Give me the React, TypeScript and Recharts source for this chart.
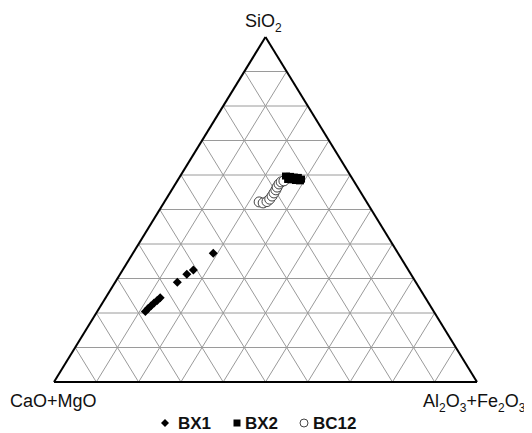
import React from 'react';
import { ScatterChart, Scatter, XAxis, YAxis, ReferenceLine, Customized } from 'recharts';

// Ternary compositions in percent: [SiO2, Al2O3+Fe2O3, CaO+MgO]
const BX1: number[][] = [
  [37.3, 19.0, 43.7],
  [32.5, 16.7, 50.8],
  [31.2, 15.8, 53.0],
  [28.9, 14.7, 56.4],
  [24.4, 12.9, 62.7],
  [23.6, 12.6, 63.8],
  [22.9, 12.2, 64.9],
  [22.0, 11.9, 66.1],
  [21.3, 11.6, 67.1],
  [20.4, 11.4, 68.2],
];

const BX2: number[][] = [
  [59.7, 25.0, 15.3],
  [59.6, 26.0, 14.4],
  [59.4, 27.0, 13.6],
  [59.3, 28.0, 12.7],
  [58.8, 29.0, 12.2],
  [58.3, 29.0, 12.7],
  [58.4, 28.0, 13.6],
  [58.6, 27.0, 14.4],
  [58.7, 26.0, 15.3],
];

const BC12: number[][] = [
  [52.2, 22.4, 25.4],
  [51.9, 23.5, 24.6],
  [52.3, 24.2, 23.5],
  [53.0, 24.5, 22.5],
  [53.9, 24.6, 21.5],
  [54.8, 24.6, 20.6],
  [55.7, 24.6, 19.7],
  [56.5, 24.5, 19.0],
  [57.4, 24.5, 18.1],
  [58.0, 24.7, 17.3],
  [58.3, 25.2, 16.5],
];

const gridSteps = [1, 2, 3, 4, 5, 6, 7, 8, 9];
const seriesNames = ['BX1', 'BX2', 'BC12'];
const apexLabels = ['SiO2', 'CaO+MgO', 'Al2O3+Fe2O3'];

const toXY = (row: number[]) => {
  const t = row[0] + row[1] + row[2];
  const s = row[0] / t;
  const a = row[1] / t;
  return { x: a + s / 2, y: s };
};

const bx1Data = BX1.map(toXY);
const bx2Data = BX2.map(toXY);
const bc12Data = BC12.map(toXY);

type Seg = [{ x: number; y: number }, { x: number; y: number }];
const gridSegments: Seg[] = [];
gridSteps.forEach((k) => {
  const t = k / 10;
  gridSegments.push([{ x: t / 2, y: t }, { x: 1 - t / 2, y: t }]);
  gridSegments.push([{ x: t, y: 0 }, { x: t + (1 - t) / 2, y: 1 - t }]);
  gridSegments.push([{ x: 1 - t, y: 0 }, { x: (1 - t) / 2, y: 1 - t }]);
});
const outline: Seg[] = [
  [{ x: 0, y: 0 }, { x: 1, y: 0 }],
  [{ x: 0, y: 0 }, { x: 0.5, y: 1 }],
  [{ x: 1, y: 0 }, { x: 0.5, y: 1 }],
];

const Diamond = (props: any) => {
  const { cx, cy } = props;
  const r = 4.5;
  return <polygon points={`${cx},${cy - r} ${cx + r},${cy} ${cx},${cy + r} ${cx - r},${cy}`} fill="#000" />;
};
const Square = (props: any) => {
  const { cx, cy } = props;
  return <rect x={cx - 4} y={cy - 3.5} width={8} height={7} fill="#000" />;
};
const Ring = (props: any) => {
  const { cx, cy } = props;
  return <circle cx={cx} cy={cy} r={5} fill="#fff" stroke="#444" strokeWidth={1} />;
};

const FONT = 'Liberation Sans, Arial, Helvetica, sans-serif';

const Sub = ({ children }: { children: string }) => (
  <tspan fontSize={12} dy={5}>{children}</tspan>
);

const Labels = () => (
  <g fontFamily={FONT} fill="#111">
    <text x={237} y={19} fontSize={18}>
      SiO<tspan fontSize={12} dy={5}>2</tspan>
    </text>
    <text x={2} y={399} fontSize={18}>{apexLabels[1]}</text>
    <text x={415} y={399} fontSize={18}>
      Al<Sub>2</Sub><tspan dy={-5}>O</tspan><Sub>3</Sub><tspan dy={-5}>+Fe</tspan><Sub>2</Sub><tspan dy={-5}>O</tspan><Sub>3</Sub>
    </text>
    <g fontSize={17} fontWeight="bold">
      <polygon points="157,411 161,415 157,419 153,415" fill="#000" />
      <text x={170} y={421}>{seriesNames[0]}</text>
      <rect x={225.5} y={411.5} width={7} height={7} fill="#000" />
      <text x={237} y={421}>{seriesNames[1]}</text>
      <circle cx={296} cy={415} r={4} fill="#fff" stroke="#444" strokeWidth={1} />
      <text x={305} y={421}>{seriesNames[2]}</text>
    </g>
  </g>
);

export default function App() {
  return (
    <ScatterChart width={524} height={425} margin={{ top: 29, right: 55, bottom: 51, left: 46 }}>
      <XAxis type="number" dataKey="x" domain={[0, 1]} hide />
      <YAxis type="number" dataKey="y" domain={[0, 1]} hide />
      {gridSegments.map((seg, i) => (
        <ReferenceLine key={`g${i}`} segment={seg} stroke="#9a9a9a" strokeWidth={1} />
      ))}
      {outline.map((seg, i) => (
        <ReferenceLine key={`o${i}`} segment={seg} stroke="#000" strokeWidth={2} />
      ))}
      <Scatter name="BC12" data={bc12Data} shape={Ring} isAnimationActive={false} />
      <Scatter name="BX2" data={bx2Data} shape={Square} isAnimationActive={false} />
      <Scatter name="BX1" data={bx1Data} shape={Diamond} isAnimationActive={false} />
      <Customized component={Labels} />
    </ScatterChart>
  );
}
